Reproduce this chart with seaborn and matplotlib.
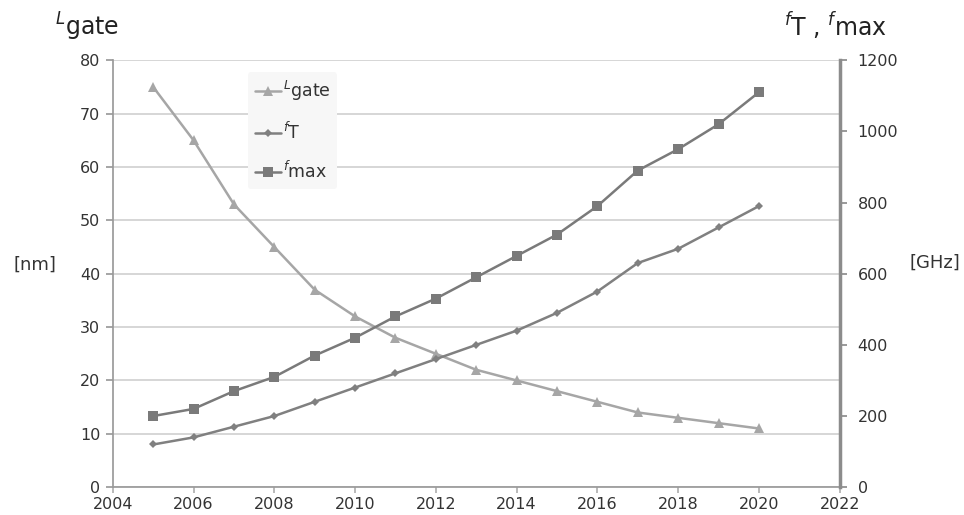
import matplotlib
matplotlib.use("Agg")
import matplotlib.pyplot as plt
import seaborn as sns
import pandas as pd

years = [2005, 2006, 2007, 2008, 2009, 2010, 2011, 2012, 2013, 2014, 2015, 2016, 2017, 2018, 2019, 2020]
l_gate = [75, 65, 53, 45, 37, 32, 28, 25, 22, 20, 18, 16, 14, 13, 12, 11]
f_t = [120, 140, 170, 200, 240, 280, 320, 360, 400, 440, 490, 550, 630, 670, 730, 790]
f_max = [200, 220, 270, 310, 370, 420, 480, 530, 590, 650, 710, 790, 890, 950, 1020, 1110]

df = pd.DataFrame({"year": years, "lgate": l_gate, "ft": f_t, "fmax": f_max})

sns.set_theme(style="white")
plt.rcParams['font.family'] = ['DejaVu Sans']
plt.rcParams['mathtext.fontset'] = 'dejavusans'

fig = plt.figure(figsize=(9.64, 5.15), dpi=100)
ax = fig.add_axes([0.117, 0.054, 0.754, 0.829])
ax2 = ax.twinx()

c_l = "#a6a6a6"
c_t = "#808080"
c_m = "#7a7a7a"

lab_l = r"$^{L}$gate"
lab_t = r"$^{f}$T"
lab_m = r"$^{f}$max"

sns.lineplot(data=df, x="year", y="lgate", ax=ax, color=c_l, marker="^", markersize=6.5,
             markeredgewidth=0, linewidth=1.8, label=lab_l, legend=False)
sns.lineplot(data=df, x="year", y="ft", ax=ax2, color=c_t, marker="D", markersize=4.5,
             markeredgewidth=0, linewidth=1.8, label=lab_t, legend=False)
sns.lineplot(data=df, x="year", y="fmax", ax=ax2, color=c_m, marker="s", markersize=7,
             markeredgewidth=0, linewidth=1.8, label=lab_m, legend=False)

ax.set_xlim(2004, 2022)
ax.set_ylim(0, 80)
ax2.set_ylim(0, 1200)
ax.set_xticks(range(2004, 2023, 2))
ax.set_yticks(range(0, 81, 10))
ax2.set_yticks(range(0, 1201, 200))
ax.set_xlabel("")
ax.set_ylabel("")
ax2.set_ylabel("")

ax.yaxis.grid(True, color="#cfcfcf", linewidth=1.2)
ax.set_axisbelow(True)

ax.spines["top"].set_visible(False)
ax2.spines["top"].set_visible(False)
ax.spines["right"].set_visible(False)
ax2.spines["left"].set_visible(False)
ax2.spines["bottom"].set_visible(False)
ax.spines["left"].set_color("#9a9a9a")
ax.spines["bottom"].set_color("#9a9a9a")
ax2.spines["right"].set_color("#8c8c8c")
ax2.spines["right"].set_linewidth(2.5)

ax.tick_params(axis="x", bottom=True, direction="out", length=4, color="#b0b0b0",
               labelsize=11.5, labelcolor="#333333", pad=3)
ax.tick_params(axis="y", left=True, direction="out", length=5, color="#9a9a9a",
               labelsize=11.5, labelcolor="#333333", pad=4)
ax2.tick_params(axis="y", right=True, direction="out", length=5, color="#8c8c8c",
                labelsize=11.5, labelcolor="#333333", pad=8)

h1, l1 = ax.get_legend_handles_labels()
h2, l2 = ax2.get_legend_handles_labels()
leg = ax2.legend(h1 + h2, l1 + l2, loc="upper left", bbox_to_anchor=(0.186, 0.972),
                 borderaxespad=0, frameon=True, fontsize=12.5, labelspacing=1.05,
                 handlelength=1.5, handletextpad=0.1, borderpad=0.4)
leg.get_frame().set_facecolor("#f7f7f7")
leg.get_frame().set_edgecolor("none")
leg.get_frame().set_alpha(1)
for t in leg.get_texts():
    t.set_color("#333333")

fig.text(55 / 964, 1 - 36 / 515, r"$^{L}$gate", fontsize=17, color="#222222", va="baseline")
fig.text(784 / 964, 1 - 36 / 515, r"$^{f}$T , $^{f}$max", fontsize=17, color="#222222", va="baseline")
fig.text(35 / 964, 1 - 265 / 515, "[nm]", fontsize=13, color="#333333", ha="center", va="center")
fig.text(935 / 964, 1 - 263 / 515, "[GHz]", fontsize=13, color="#333333", ha="center", va="center")

fig.savefig("out.png", dpi=100)
